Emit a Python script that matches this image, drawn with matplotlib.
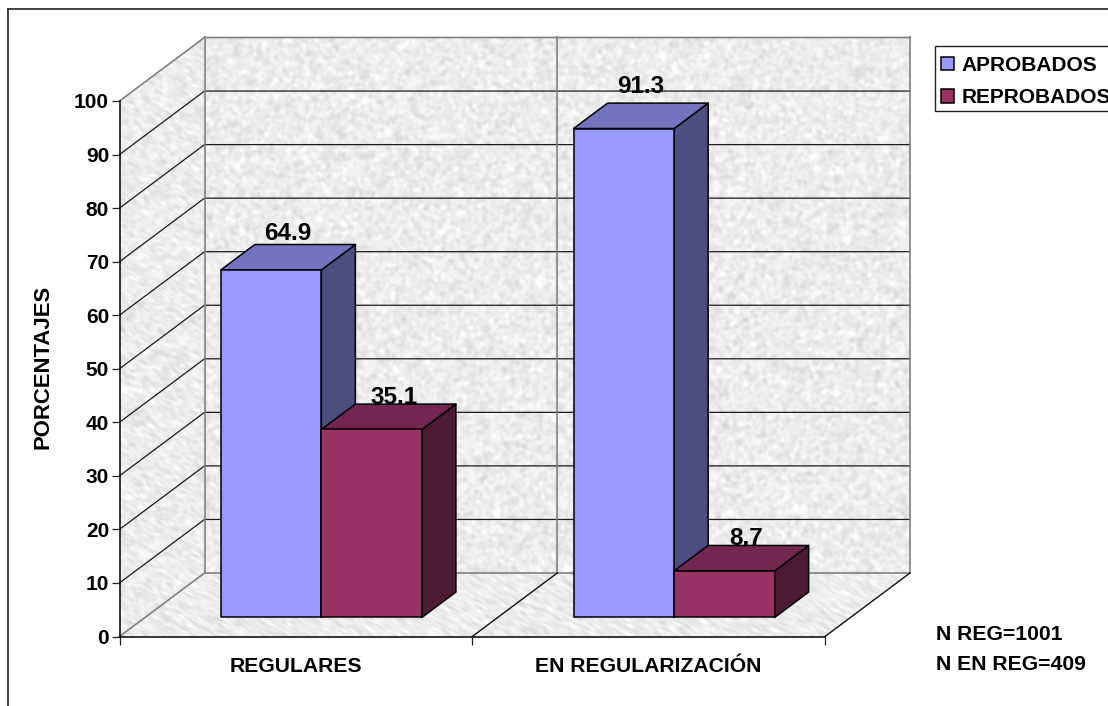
import matplotlib
matplotlib.use('Agg')
import matplotlib.pyplot as plt
from matplotlib.patches import Polygon, Patch, Rectangle
from matplotlib.lines import Line2D
import numpy as np

plt.rcParams['font.family'] = ['Liberation Sans', 'DejaVu Sans']
plt.rcParams['font.weight'] = 'bold'

categories = ['REGULARES', 'EN REGULARIZACIÓN']
series_names = ['APROBADOS', 'REPROBADOS']
aprobados = [64.9, 91.3]
reprobados = [35.1, 8.7]
y_ticks = [0, 10, 20, 30, 40, 50, 60, 70, 80, 90, 100]
notes = ['N REG=1001', 'N EN REG=409']

W, H = 1108, 706
BAR_W = 0.285
GAP = 0.215
# full depth of the 3d box, in data units of the front plane
DX = 85.0 / 352.75
DY = 63.5 / 5.355
D0, D1 = 0.3, 0.7   # bar front and back, fraction of the depth

colors = {'front': ['#9999ff', '#993366'],
          'side': ['#4d4d80', '#4d1a33'],
          'top': ['#7373bf', '#732650']}


def fx(px):
    return px / W


def fy(py):
    return 1 - py / H


def proj(x, v, d):
    return (x + d * DX, v + d * DY)


def texture(seed, sx, sy, shear=0.0):
    # blurred noise for the marble walls, only decoration
    rng = np.random.default_rng(seed)
    n = rng.normal(size=(H, W))
    fu = np.fft.fftfreq(W)[None, :]
    fv = np.fft.fftfreq(H)[:, None]
    u = fu + shear * fv
    v = fv
    g = np.exp(-2 * np.pi**2 * ((sx * u)**2 + (sy * v)**2))
    t = np.real(np.fft.ifft2(np.fft.fft2(n) * g))
    t = t / t.std()
    return np.clip(0.925 + 0.024 * t, 0.78, 1.0)


fig = plt.figure(figsize=(W / 100, H / 100), dpi=100, facecolor='white')

# chart area border, runs off the right and bottom of the picture
fig.add_artist(Line2D([fx(8), fx(8)], [0, fy(9)], color='#222222', lw=1.2))
fig.add_artist(Line2D([fx(8), 1], [fy(9), fy(9)], color='#222222', lw=1.2))

bg = fig.add_axes([0, 0, 1, 1], zorder=0)
bg.set_xlim(0, W)
bg.set_ylim(H, 0)
bg.axis('off')

ax = fig.add_axes([fx(119.5), fy(636.5), fx(825 - 119.5), (636.5 - 101) / H], zorder=1)
ax.patch.set_visible(False)
ax.set_xlim(0, 2)
ax.set_ylim(0, 100)
for s in ['top', 'right']:
    ax.spines[s].set_visible(False)
for s in ['left', 'bottom']:
    ax.spines[s].set_linewidth(1.1)
    ax.spines[s].set_zorder(6)

# walls and floor
back = [proj(0, 0, 1), proj(2, 0, 1), proj(2, 100, 1), proj(0, 100, 1)]
left = [proj(0, 0, 0), proj(0, 0, 1), proj(0, 100, 1), proj(0, 100, 0)]
floor = [proj(0, 0, 0), proj(2, 0, 0), proj(2, 0, 1), proj(0, 0, 1)]
panes = [(back, texture(1, 1.6, 1.6)),
         (left, texture(2, 2.0, 1.2, 0.4)),
         (floor, texture(3, 2.6, 1.0, 0.5))]
for verts, tex in panes:
    im = bg.imshow(tex, cmap='gray', vmin=0, vmax=1, extent=(0, W, H, 0),
                   aspect='auto', interpolation='bilinear')
    im.set_clip_path(Polygon(verts, transform=ax.transData))

# gridlines
for v in y_ticks:
    c = '#808080' if v in (0, 100) else '#1a1a1a'
    lw = 1.2 if v in (0, 100) else 0.9
    p0, p1, p2 = proj(0, v, 0), proj(0, v, 1), proj(2, v, 1)
    ax.plot([p0[0], p1[0], p2[0]], [p0[1], p1[1], p2[1]], color=c, lw=lw,
            clip_on=False, zorder=2, solid_joinstyle='miter')
for x in [0, 1, 2]:
    p0, p1 = proj(x, 0, 1), proj(x, 100, 1)
    ax.plot([p0[0], p1[0]], [p0[1], p1[1]], color='#808080', lw=1.2, clip_on=False, zorder=2)
for x in [1, 2]:
    p0, p1 = proj(x, 0, 0), proj(x, 0, 1)
    ax.plot([p0[0], p1[0]], [p0[1], p1[1]], color='#111111', lw=1.0, clip_on=False, zorder=2)

# bars, drawn back to front within each category
label_dx = [0, 5]
label_dy = [[0, -5], [5, -5]]   # per category, per series
for i in range(len(categories)):
    for j, vals in enumerate([aprobados, reprobados]):
        v = vals[i]
        x0 = i + GAP + j * BAR_W
        x1 = x0 + BAR_W
        front = [proj(x0, 0, D0), proj(x1, 0, D0), proj(x1, v, D0), proj(x0, v, D0)]
        top = [proj(x0, v, D0), proj(x1, v, D0), proj(x1, v, D1), proj(x0, v, D1)]
        side = [proj(x1, 0, D0), proj(x1, 0, D1), proj(x1, v, D1), proj(x1, v, D0)]
        for verts, name in [(side, 'side'), (top, 'top'), (front, 'front')]:
            ax.add_patch(Polygon(verts, closed=True, facecolor=colors[name][j], edgecolor='black',
                                 lw=1.1, clip_on=False, zorder=3 + 0.1 * j, joinstyle='round'))
        tx = proj((x0 + x1) / 2, v, (D0 + D1) / 2)[0]
        ty = proj((x0 + x1) / 2, v, D1)[1]
        ax.annotate('%.1f' % v, (tx, ty), xytext=(label_dx[j], label_dy[i][j]),
                    textcoords='offset pixels',
                    ha='center', va='bottom', fontsize=17.5, fontweight='bold', color='black',
                    annotation_clip=False, zorder=5)

ax.set_yticks(y_ticks)
ax.set_xticks([0, 1, 2])
ax.set_xticklabels([])
ax.set_xticks([0.5, 1.5], minor=True)
ax.set_xticklabels(categories, minor=True, fontsize=15.2, fontweight='bold')
ax.tick_params(axis='x', which='major', length=6, width=0.9, color='#222222')
ax.tick_params(axis='x', which='minor', length=0, pad=15)
ax.tick_params(axis='y', which='major', length=6, width=0.9, color='#222222', pad=1.5, labelsize=15)
ax.set_ylabel('PORCENTAJES', fontsize=15.9, fontweight='bold', labelpad=14.5, y=0.503)

# legend box goes past the right edge of the picture, like the original
fig.add_artist(Rectangle((fx(934.5), fy(111)), fx(200), 65 / H, facecolor='white',
                         edgecolor='#222222', lw=1.0, transform=fig.transFigure))
handles = [Patch(facecolor=colors['front'][k], edgecolor='black', lw=1.1, label=series_names[k])
           for k in range(2)]
leg = fig.legend(handles=handles, loc='upper left', bbox_to_anchor=(fx(941), fy(56)),
                 borderaxespad=0, frameon=False,
                 prop={'size': 15, 'weight': 'bold'}, handlelength=0.63,
                 handleheight=0.63, handletextpad=0.36, borderpad=0, labelspacing=0.63)
leg.set_zorder(5)

fig.text(fx(936), fy(635), notes[0], fontsize=15.2, fontweight='bold', va='center', ha='left')
fig.text(fx(936), fy(664), notes[1], fontsize=15.2, fontweight='bold', va='center', ha='left')

fig.savefig('out.png', dpi=100)
